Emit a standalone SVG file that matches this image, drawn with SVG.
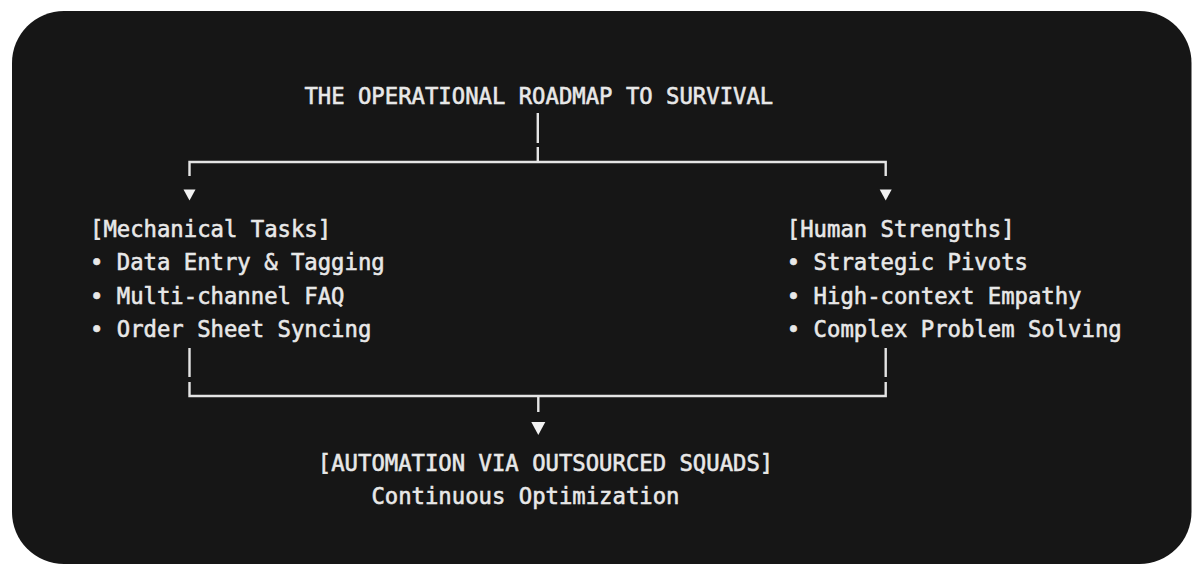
<svg xmlns="http://www.w3.org/2000/svg" width="1204" height="576" viewBox="0 0 1204 576">
  <style>
    .t { font-family: "DejaVu Sans Mono", "Liberation Mono", monospace; font-size: 22.25px; fill: #e8e8e8; stroke: #e8e8e8; stroke-width: 0.55; white-space: pre; }
    .ln { fill: none; stroke: #e4e4e4; stroke-width: 2.4; stroke-linecap: butt; stroke-linejoin: miter; }
    .ar { fill: #f2f2f2; }
  </style>
  <rect x="0" y="0" width="1204" height="576" fill="#ffffff"/>
  <rect x="12" y="11" width="1179.5" height="553" rx="52" ry="52" fill="#161616"/>

  <g id="connectors">
    <path class="ln" d="M537.8 113 V143 M537.8 147 V162"/>
    <path class="ln" d="M189.5 176 V162 H885.7 V176"/>
    <polygon class="ar" points="183.5,189.5 195.5,189.5 189.5,200.5"/>
    <polygon class="ar" points="879.7,189.5 891.7,189.5 885.7,200.5"/>
    <path class="ln" d="M189.5 348 V377 M885.7 348 V377"/>
    <path class="ln" d="M189.5 382 V396 H885.7 V382 M538.3 396 V412"/>
    <polygon class="ar" points="531.3,422 545.3,422 538.3,435"/>
  </g>

  <g id="title">
    <text class="t" x="304.4" y="103.5">THE OPERATIONAL ROADMAP TO SURVIVAL</text>
  </g>

  <g id="mechanical">
    <text class="t" x="90" y="237">[Mechanical Tasks]</text>
    <text class="t" x="90" y="270.3">• Data Entry &amp; Tagging</text>
    <text class="t" x="90" y="303.6">• Multi-channel FAQ</text>
    <text class="t" x="90" y="337">• Order Sheet Syncing</text>
  </g>

  <g id="human">
    <text class="t" x="786.8" y="237">[Human Strengths]</text>
    <text class="t" x="786.8" y="270.3">• Strategic Pivots</text>
    <text class="t" x="786.8" y="303.6">• High-context Empathy</text>
    <text class="t" x="786.8" y="337">• Complex Problem Solving</text>
  </g>

  <g id="automation">
    <text class="t" x="317.8" y="471">[AUTOMATION VIA OUTSOURCED SQUADS]</text>
    <text class="t" x="371.4" y="504">Continuous Optimization</text>
  </g>
</svg>
